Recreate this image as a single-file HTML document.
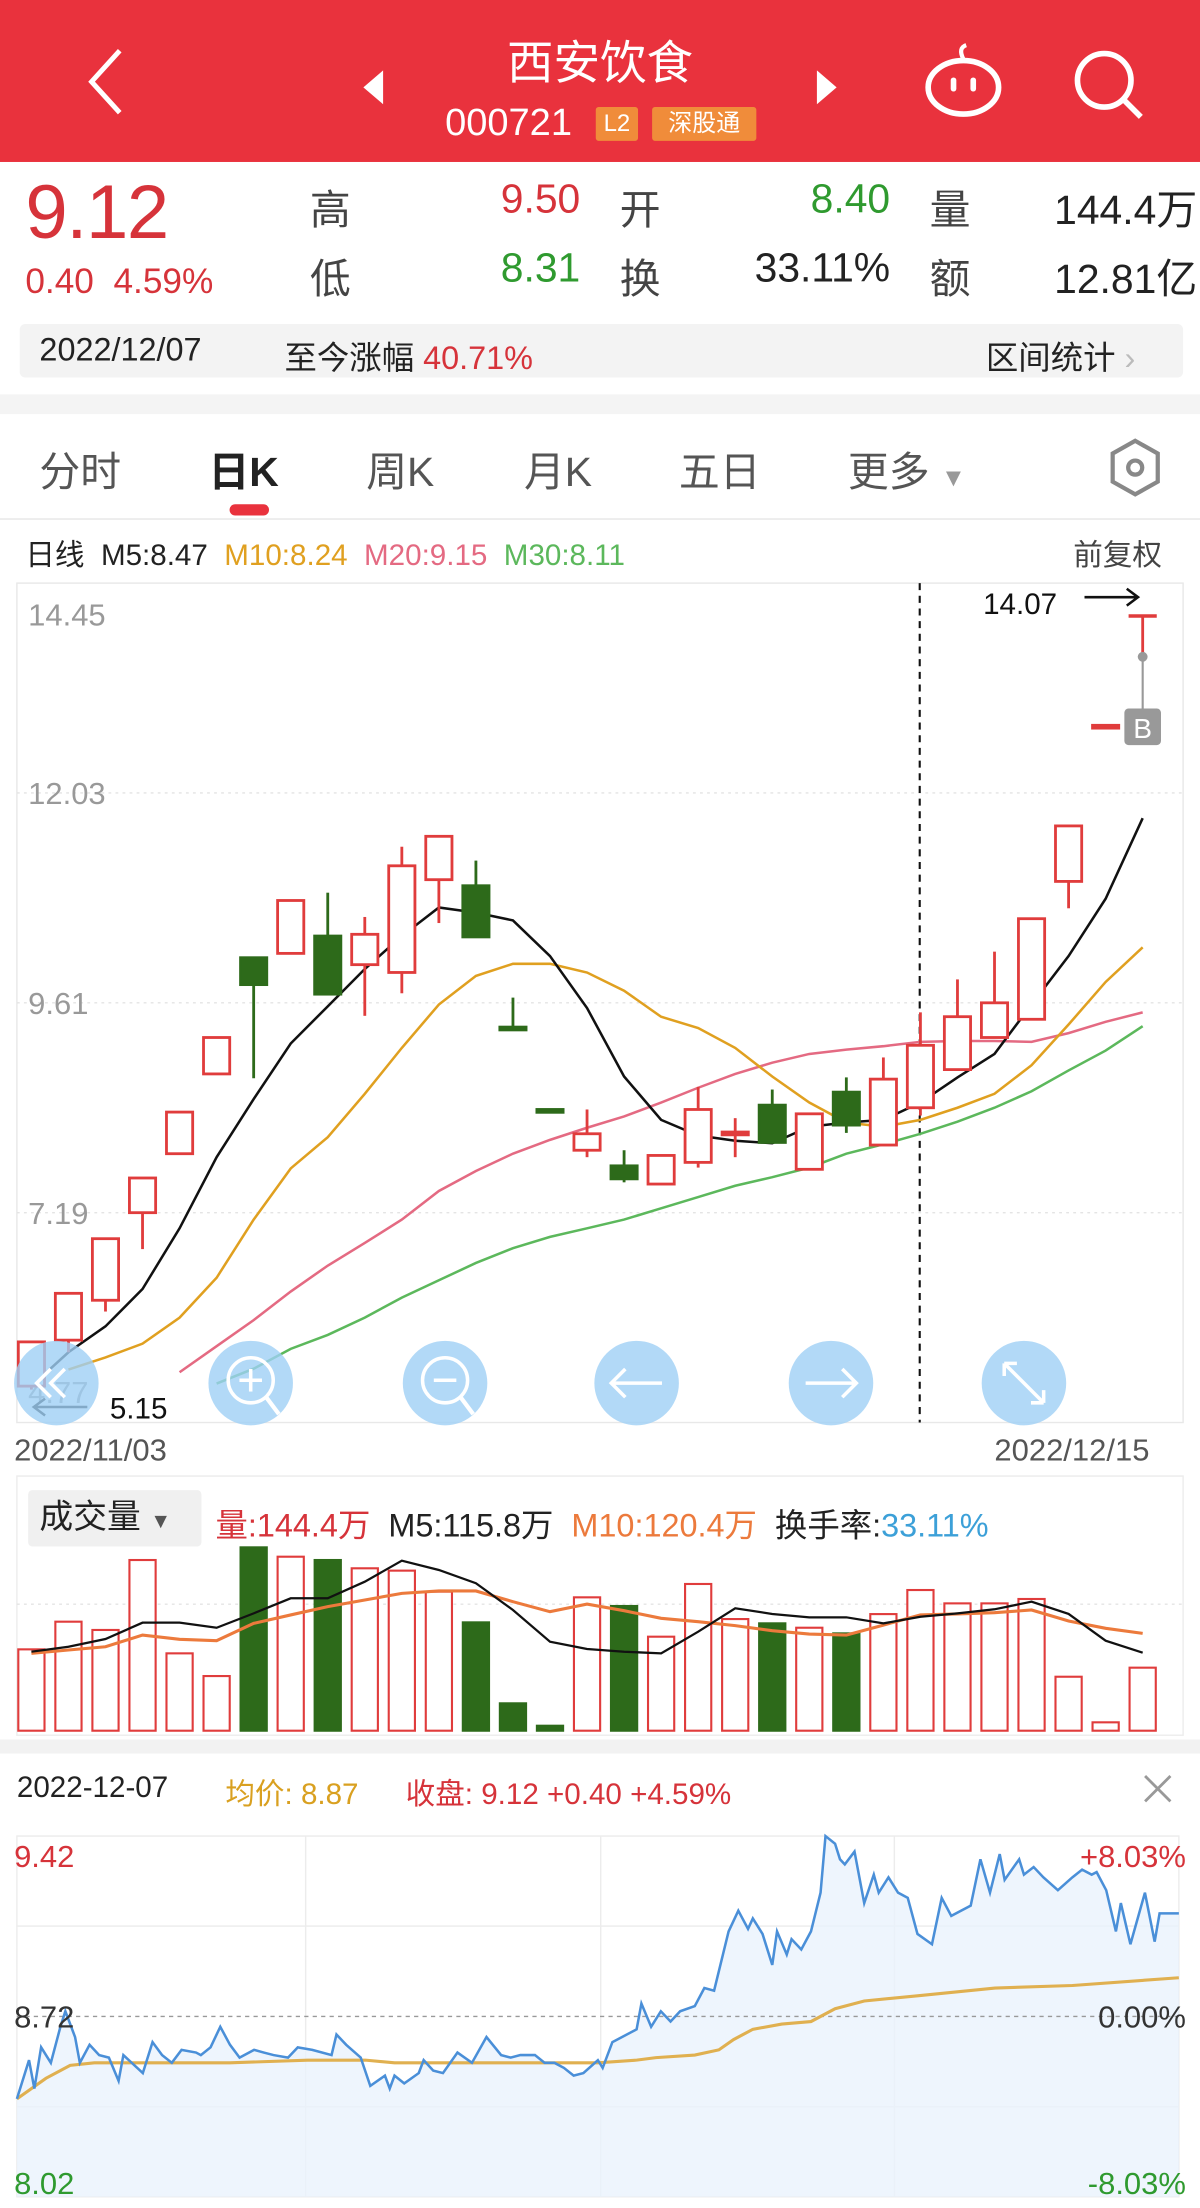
<!DOCTYPE html>
<html><head><meta charset="utf-8">
<style>
html,body{margin:0;padding:0;background:#fff;overflow:hidden}
body{width:1200px;height:2208px;position:relative}
#root{position:absolute;left:0;top:0;width:852px;height:1568px;transform:scale(1.408451);transform-origin:0 0;font-family:"Liberation Sans","Noto Sans CJK SC",sans-serif;color:#222}
.a{position:absolute;white-space:nowrap}
.cn{letter-spacing:-0.5px}
.red{color:#d6333a}.grn{color:#2f9a2f}
</style></head><body>
<div id="root">
<!-- header -->
<div class="a" style="left:0;top:0;width:852px;height:115px;background:#e9323d"></div>
<svg class="a" style="left:55px;top:32px" width="40" height="52"><polyline points="30,4 10,26 30,48" fill="none" stroke="#fff" stroke-width="3.5"/></svg>
<div class="a" style="left:326px;top:18px;width:200px;text-align:center;font-size:33px;color:#fff">西安饮食</div>
<svg class="a" style="left:256px;top:48px" width="20" height="28"><polygon points="16,2 2,14 16,26" fill="#fff"/></svg>
<svg class="a" style="left:576px;top:48px" width="20" height="28"><polygon points="4,2 18,14 4,26" fill="#fff"/></svg>
<div class="a" style="left:316px;top:72px;font-size:27px;color:#fff">000721</div>
<div class="a" style="left:423px;top:76px;width:30px;height:24px;background:#f08c3a;color:#fff;font-size:17px;text-align:center;line-height:24px;border-radius:2px">L2</div>
<div class="a" style="left:463px;top:76px;width:74px;height:24px;background:#f08c3a;color:#fff;font-size:17px;text-align:center;line-height:24px;border-radius:2px">深股通</div>
<svg class="a" style="left:655px;top:28px" width="58" height="56"><path d="M29 14 q-4 -8 2 -10" fill="none" stroke="#fff" stroke-width="3"/><ellipse cx="29" cy="34" rx="25" ry="19" fill="none" stroke="#fff" stroke-width="4"/><rect x="20" y="27" width="4" height="10" rx="2" fill="#fff"/><rect x="34" y="27" width="4" height="10" rx="2" fill="#fff"/></svg>
<svg class="a" style="left:760px;top:33px" width="56" height="56"><circle cx="24" cy="24" r="19" fill="none" stroke="#fff" stroke-width="4"/><line x1="38" y1="38" x2="50" y2="50" stroke="#fff" stroke-width="4"/></svg>
<!-- quote -->
<div class="a red" style="left:18px;top:120px;font-size:54px;letter-spacing:-1px">9.12</div>
<div class="a red" style="left:18px;top:186px;font-size:25px">0.40&nbsp; 4.59%</div>
<div class="a" style="left:220px;top:126px;font-size:29px;color:#444">高</div>
<div class="a red" style="left:312px;top:126px;width:100px;text-align:right;font-size:29px">9.50</div>
<div class="a" style="left:440px;top:126px;font-size:29px;color:#444">开</div>
<div class="a grn" style="left:532px;top:126px;width:100px;text-align:right;font-size:29px">8.40</div>
<div class="a" style="left:660px;top:126px;font-size:29px;color:#444">量</div>
<div class="a" style="left:700px;top:126px;width:150px;text-align:right;font-size:29px">144.4万</div>
<div class="a" style="left:220px;top:175px;font-size:29px;color:#444">低</div>
<div class="a grn" style="left:312px;top:175px;width:100px;text-align:right;font-size:29px">8.31</div>
<div class="a" style="left:440px;top:175px;font-size:29px;color:#444">换</div>
<div class="a" style="left:512px;top:175px;width:120px;text-align:right;font-size:29px">33.11%</div>
<div class="a" style="left:660px;top:175px;font-size:29px;color:#444">额</div>
<div class="a" style="left:700px;top:175px;width:150px;text-align:right;font-size:29px">12.81亿</div>
<div class="a" style="left:14px;top:230px;width:826px;height:38px;background:#f3f3f3;border-radius:4px"></div>
<div class="a" style="left:28px;top:235px;font-size:23px">2022/12/07</div>
<div class="a" style="left:202px;top:235px;font-size:23px">至今涨幅 <span class="red">40.71%</span></div>
<div class="a" style="left:700px;top:235px;font-size:23px">区间统计 <span style="color:#bbb">›</span></div>
<div class="a" style="left:0;top:280px;width:852px;height:14px;background:#f4f4f4"></div>
<!-- tabs -->
<div class="a" style="left:28px;top:312px;font-size:29px;color:#555">分时</div>
<div class="a" style="left:148px;top:312px;font-size:29px;font-weight:bold;color:#222">日K</div>
<div class="a" style="left:163px;top:358px;width:28px;height:8px;border-radius:4px;background:#e9323d"></div>
<div class="a" style="left:260px;top:312px;font-size:29px;color:#555">周K</div>
<div class="a" style="left:372px;top:312px;font-size:29px;color:#555">月K</div>
<div class="a" style="left:482px;top:312px;font-size:29px;color:#555">五日</div>
<div class="a" style="left:602px;top:312px;font-size:29px;color:#555">更多 <span style="font-size:18px;color:#999">▼</span></div>
<svg class="a" style="left:786px;top:310px" width="40" height="44"><polygon points="20,3 36,12 36,32 20,41 4,32 4,12" fill="none" stroke="#888" stroke-width="3"/><circle cx="20" cy="22" r="5" fill="none" stroke="#888" stroke-width="3"/></svg>
<div class="a" style="left:0;top:368px;width:852px;height:1px;background:#e6e6e6"></div>
<!-- MA legend -->
<div class="a" style="left:18px;top:378px;font-size:21px"><span>日线</span>&nbsp; <span>M5:8.47</span>&nbsp; <span style="color:#e0a020">M10:8.24</span>&nbsp; <span style="color:#e46a82">M20:9.15</span>&nbsp; <span style="color:#5cb85c">M30:8.11</span></div>
<div class="a" style="left:762px;top:378px;font-size:21px;color:#444">前复权</div>

<svg id="kchart" class="a" style="left:0;top:0" width="852" height="1568"></svg>

<div class="a" style="left:10px;top:1017px;font-size:22px;color:#555">2022/11/03</div>
<div class="a" style="left:706px;top:1017px;font-size:22px;color:#555">2022/12/15</div>

<!-- volume -->
<div class="a" style="left:20px;top:1058px;width:123px;height:40px;background:#f0f0f0;border-radius:3px;font-size:24px;line-height:40px;padding-left:8px;box-sizing:border-box">成交量 <span style="font-size:15px;color:#555">▼</span></div>
<div class="a" style="left:153px;top:1064px;font-size:23px"><span class="red">量:144.4万</span>&nbsp; <span>M5:115.8万</span>&nbsp; <span style="color:#ec7a3c">M10:120.4万</span>&nbsp; <span>换手率:</span><span style="color:#3ca0d8">33.11%</span></div>
<div class="a" style="left:0;top:1235px;width:852px;height:10px;background:#f2f2f2"></div>

<!-- intraday -->
<div class="a" style="left:12px;top:1258px;font-size:21px">2022-12-07</div>
<div class="a" style="left:160px;top:1258px;font-size:21px;color:#d9a020">均价: 8.87</div>
<div class="a red" style="left:288px;top:1258px;font-size:21px">收盘: 9.12 +0.40 +4.59%</div>
<svg class="a" style="left:810px;top:1258px" width="24" height="24"><path d="M3 3L21 21M21 3L3 21" stroke="#999" stroke-width="2"/></svg>
</div>

<script>
// ===== Daily K data =====
const kDates = ["11/03","11/04","11/07","11/08","11/09","11/10","11/11","11/14","11/15","11/16","11/17","11/18","11/21","11/22","11/23","11/24","11/25","11/28","11/29","11/30","12/01","12/02","12/05","12/06","12/07","12/08","12/09","12/12","12/13","12/14","12/15"];
const opens  = [5.19,5.72,6.18,7.19,7.87,8.79,10.13,10.18,10.38,10.05,9.96,11.03,10.96,9.33,8.38,7.91,7.73,7.52,7.77,8.10,8.43,7.69,8.58,7.97,8.40,8.84,9.21,9.42,11.01,12.81,14.07];
const closes = [5.70,6.26,6.89,7.59,8.35,9.21,9.82,10.79,9.71,10.40,11.19,11.53,10.37,9.32,8.38,8.10,7.58,7.85,8.38,8.12,8.00,8.33,8.20,8.73,9.12,9.45,9.61,10.58,11.65,12.81,14.07];
const highs  = [5.70,6.26,6.89,7.59,8.35,9.21,10.13,10.79,10.88,10.60,11.41,11.53,11.25,9.67,8.38,8.38,7.91,7.85,8.64,8.28,8.61,8.33,8.75,8.98,9.50,9.88,10.20,10.58,11.65,12.81,14.07];
const lows   = [5.15,5.58,6.05,6.77,7.87,8.79,8.74,10.18,9.71,9.46,9.72,10.53,10.37,9.32,8.38,7.83,7.54,7.52,7.71,7.83,8.00,7.69,8.11,7.97,8.31,8.84,9.21,9.42,10.70,12.81,13.60];
const ma5  = [5.19,5.58,5.88,6.31,7.01,7.83,8.50,9.14,9.57,10.00,10.38,10.71,10.65,10.56,10.15,9.55,8.76,8.26,8.08,8.02,7.99,8.18,8.23,8.26,8.46,8.75,9.02,9.59,10.15,10.81,11.74];
const ma10 = [null,5.38,5.52,5.68,5.98,6.44,7.11,7.70,8.06,8.56,9.09,9.59,9.92,10.06,10.06,9.96,9.75,9.45,9.32,9.09,8.76,8.46,8.23,8.18,8.26,8.40,8.56,8.89,9.36,9.85,10.25];
const ma20 = [null,null,null,null,5.35,5.65,5.95,6.28,6.58,6.84,7.11,7.44,7.67,7.87,8.03,8.17,8.30,8.46,8.63,8.79,8.92,9.02,9.07,9.11,9.16,9.17,9.17,9.16,9.26,9.39,9.50];
const ma30 = [null,null,null,null,null,5.22,5.39,5.62,5.78,5.98,6.21,6.41,6.61,6.78,6.91,7.01,7.11,7.24,7.37,7.50,7.60,7.71,7.87,7.98,8.10,8.24,8.40,8.59,8.83,9.06,9.34];
const priceTicks = ["14.45","12.03","9.61","7.19","4.77"];
// ===== Volume data (万) =====
const volumes = [83.5,111.9,103.4,175.2,79.4,56.1,188.2,178.6,175.2,166.7,164.3,142.7,111.2,28.1,5.1,136.9,128.0,96.5,150.6,114.6,110.2,105.7,99.9,119.7,144.4,130.7,130.7,135.2,55.4,8.6,64.7];
const volMa5 = [81.1,86.2,94.1,110.9,110.9,105.7,120.5,135.9,135.9,153.0,174.5,165.0,151.3,123.9,91.4,83.8,81.1,79.4,101.6,125.6,119.8,116.4,116.4,110.2,117.0,120.5,124.6,132.4,119.8,92.4,80.1];
const volMa10 = [79.4,82.8,86.2,98.2,93.8,92.4,110.2,118.8,127.3,134.2,141.0,143.4,143.4,132.4,122.2,130.0,123.2,115.3,111.9,107.8,102.7,99.2,98.2,108.5,118.8,119.8,121.1,123.9,112.6,105.1,99.9];
// ===== Intraday data =====
const minutes = [0,2.5,3.6,5,7,9,10,12,13,15,17,19,21,22,26,28,30,32,34,37,38,40,42,44,46,49,51,53,56,58,61,65,66,68,71,73,76,77,78,80,83,84,86,88,91,94,97,100,102,104,107,109,111,113,115,117,120,121,123,125,128,129,131,133,135,137,140,142,144,147,149,151,152,154,156,157,159,160,162,164,166,167,169,170,171,173,175,177,178,180,182,184,186,189,191,193,195,197,199,201,203,204,207,208,210,212,215,218,220,222,223,225,227,228,230,233,235,236,240];
const prices = [8.40,8.55,8.44,8.60,8.54,8.68,8.74,8.64,8.54,8.61,8.57,8.56,8.47,8.57,8.50,8.62,8.57,8.54,8.59,8.58,8.57,8.60,8.68,8.61,8.56,8.59,8.58,8.57,8.56,8.60,8.59,8.57,8.65,8.61,8.56,8.45,8.49,8.44,8.49,8.46,8.50,8.55,8.51,8.50,8.58,8.54,8.64,8.57,8.56,8.57,8.57,8.54,8.54,8.52,8.49,8.50,8.55,8.52,8.62,8.64,8.67,8.77,8.68,8.74,8.70,8.74,8.76,8.83,8.82,9.05,9.13,9.06,9.10,9.04,8.92,9.05,8.96,9.02,8.98,9.05,9.20,9.42,9.39,9.33,9.31,9.36,9.16,9.27,9.20,9.26,9.20,9.18,9.04,9.00,9.18,9.11,9.13,9.15,9.33,9.20,9.35,9.25,9.33,9.27,9.30,9.26,9.21,9.26,9.29,9.27,9.28,9.21,9.05,9.16,9.00,9.20,9.01,9.12,9.12];
const avgMinutes = [0,6,11,16,28,44,60,72,78,91,107,120,128,132,140,145,148,152,158,164,169,175,186,202,218,240];
const avgPrices = [8.40,8.48,8.53,8.54,8.54,8.54,8.55,8.55,8.54,8.54,8.54,8.54,8.55,8.56,8.57,8.59,8.63,8.67,8.69,8.70,8.75,8.78,8.80,8.83,8.84,8.87];
const intraTicksL = ["9.42","8.72","8.02"];
const intraTicksR = ["+8.03%","0.00%","-8.03%"];

const NS="http://www.w3.org/2000/svg";
const svg=document.getElementById('kchart');
function mk(tag,attrs,parent){const e=document.createElementNS(NS,tag);for(const k in attrs)e.setAttribute(k,attrs[k]);(parent||svg).appendChild(e);return e;}

// axes for K chart
const kTop=414,kBot=1010,pMax=14.45,pMin=4.77;
const yP=p=>kTop+(pMax-p)/(pMax-pMin)*(kBot-kTop);
const xI=i=>22.3+i*26.3;
const candleW=20.6;

let e=mk('rect',{x:12,y:kTop,width:828,height:kBot-kTop,fill:'none',stroke:'#e8e8e8'});


priceTicks.forEach((t,k)=>{
  const v=parseFloat(t),y=yP(v);
  if(k>0&&k<priceTicks.length-1){
    const g=mk('line',{x1:12,x2:840,y1:y,y2:y,stroke:'#e4e4e4','stroke-dasharray':'2,3'});
    
    
  }
  const ty=k===0?y+30:(k===priceTicks.length-1?y-14:y+8);
  const tx=mk('text',{x:20,y:ty,'font-size':22,fill:'#999','font-family':'Liberation Sans'});
  tx.textContent=t;
  
  
});
// dashed selected line
e=mk('line',{x1:653,x2:653,y1:kTop,y2:kBot,stroke:'#111','stroke-width':1.5,'stroke-dasharray':'5,4'});



// MA lines
function maPath(arr,color,name,w){
  let d='';arr.forEach((v,i)=>{if(v==null)return;d+=(d?'L':'M')+xI(i).toFixed(1)+' '+yP(v).toFixed(1);});
  const p=mk('path',{d,fill:'none',stroke:color,'stroke-width':w||1.8});
  
  
}
maPath(ma30,'#5cb85c','ma30-line');
maPath(ma20,'#e46a82','ma20-line');
maPath(ma10,'#e0a020','ma10-line');
maPath(ma5,'#111','ma5-line');

// candles
for(let i=0;i<opens.length-1;i++){
  const up=closes[i]>=opens[i]&&!(i===13||i===14||i===16||i===20||i===22||i===6||i===8||i===12);
  const col=up?'#e03c3c':'#2d6a1a';
  const x=xI(i);
  const top=Math.max(opens[i],closes[i]),bot=Math.min(opens[i],closes[i]);
  const w=mk('line',{x1:x,x2:x,y1:yP(highs[i]),y2:yP(top),stroke:col,'stroke-width':2});
  
  
  const w2=mk('line',{x1:x,x2:x,y1:yP(bot),y2:yP(lows[i]),stroke:col,'stroke-width':2});
  
  
  const h=Math.max(2,yP(bot)-yP(top));
  const r=mk('rect',{x:x-candleW/2+1,y:yP(top),width:candleW-2,height:h,fill:up?'#fff':col,stroke:col,'stroke-width':2});
  
  
}
// last candle marker
{
  const i=opens.length-1,x=xI(i);
  e=mk('line',{x1:x-10,x2:x+10,y1:yP(highs[i]),y2:yP(highs[i]),stroke:'#e03c3c','stroke-width':2.5});
  
  
  e=mk('line',{x1:x,x2:x,y1:yP(highs[i]),y2:yP(lows[i]),stroke:'#e03c3c','stroke-width':2});
  
  
  e=mk('line',{x1:x,x2:x,y1:yP(lows[i]),y2:505,stroke:'#999','stroke-width':1.5});
  
  
  e=mk('circle',{cx:x,cy:yP(lows[i]),r:3.5,fill:'#999'});
  
  
  e=mk('rect',{x:x-13,y:503,width:26,height:26,rx:3,fill:'#999'});
  
  
  const t=mk('text',{x:x,y:524,'font-size':20,fill:'#fff','text-anchor':'middle','font-family':'Liberation Sans'});t.textContent='B';
  
  
}
// max/min labels
{
  let t=mk('text',{x:698,y:436,'font-size':21,fill:'#111','font-family':'Liberation Sans'});t.textContent=highs[highs.length-1].toFixed(2);
  
  
  e=mk('path',{d:'M770 424 H808 M800 418 L808 424 L800 430',stroke:'#111','stroke-width':1.8,fill:'none'});
  
  
  t=mk('text',{x:78,y:1007,'font-size':21,fill:'#111','font-family':'Liberation Sans'});t.textContent=lows[0].toFixed(2);
  
  
  e=mk('path',{d:'M62 999 H24 M32 993 L24 999 L32 1005',stroke:'#111','stroke-width':1.8,fill:'none'});
  
  
}
// zoom buttons
const btnNames=['scroll-left-button','zoom-in-button','zoom-out-button','move-left-button','move-right-button','fullscreen-button'];
const btnX=[40,178,316,452,590,727];
btnX.forEach((cx,k)=>{
  const c=mk('circle',{cx,cy:982,r:30,fill:'#9fd0f5','fill-opacity':0.8});
  
  
  const s='#fff';
  if(k===1||k===2){mk('circle',{cx,cy:980,r:16,fill:'none',stroke:s,'stroke-width':2.5});mk('line',{x1:cx+11,y1:992,x2:cx+20,y2:1004,stroke:s,'stroke-width':3});mk('line',{x1:cx-8,x2:cx+8,y1:980,y2:980,stroke:s,'stroke-width':2.5});if(k===1)mk('line',{x1:cx,x2:cx,y1:972,y2:988,stroke:s,'stroke-width':2.5});}
  if(k===3)mk('path',{d:`M${cx+18} 982 H${cx-18} M${cx-8} 972 L${cx-18} 982 L${cx-8} 992`,stroke:s,'stroke-width':2.5,fill:'none'});
  if(k===4)mk('path',{d:`M${cx-18} 982 H${cx+18} M${cx+8} 972 L${cx+18} 982 L${cx+8} 992`,stroke:s,'stroke-width':2.5,fill:'none'});
  if(k===5)mk('path',{d:`M${cx-14} 968 L${cx+14} 996 M${cx-14} 968 v9 M${cx-14} 968 h9 M${cx+14} 996 v-9 M${cx+14} 996 h-9`,stroke:s,'stroke-width':2.5,fill:'none'});
  if(k===0)mk('path',{d:`M${cx-4} 972 L${cx-14} 982 L${cx-4} 992 M${cx+6} 972 L${cx-4} 982 L${cx+6} 992`,stroke:s,'stroke-width':2.5,fill:'none'});
});

// ===== Volume chart =====
const vBot=1228.8,vScale=0.6917;
const yV=v=>vBot-v*vScale;
e=mk('rect',{x:12,y:1048,width:828,height:184,fill:'none',stroke:'#ececec'});


e=mk('line',{x1:12,x2:840,y1:1139,y2:1139,stroke:'#e4e4e4','stroke-dasharray':'2,3'});


volumes.forEach((v,i)=>{
  const up=!(i===6||i===8||i===12||i===13||i===14||i===16||i===20||i===22);
  const col=up?'#e03c3c':'#2d6a1a';
  const r=mk('rect',{x:xI(i)-candleW/2+1,y:yV(v),width:candleW-2,height:vBot-yV(v),fill:up?'#fff':col,stroke:col,'stroke-width':1.5});
  
  
});
function vPath(arr,color,name,w){
  let d='';arr.forEach((v,i)=>{d+=(i?'L':'M')+xI(i).toFixed(1)+' '+yV(v).toFixed(1);});
  const p=mk('path',{d,fill:'none',stroke:color,'stroke-width':w});
  
  
}
vPath(volMa10,'#ec7a3c','volume-ma10-line',2.2);
vPath(volMa5,'#111','volume-ma5-line',1.6);

// ===== Intraday chart =====
const iTop=1303.6,iBot=1559.7,iL=12,iR=837,iMax=9.42,iMin=8.02;
const xM=m=>iL+m/240*(iR-iL);
const yI=p=>iTop+(iMax-p)/(iMax-iMin)*(iBot-iTop);
e=mk('rect',{x:iL,y:iTop,width:iR-iL,height:iBot-iTop,fill:'none',stroke:'#ececec'});


[217,426.5,635].forEach(x=>{const g=mk('line',{x1:x,x2:x,y1:iTop,y2:iBot,stroke:'#ececec'});
  
  });
[1367.5,1495.8].forEach(y=>{const g=mk('line',{x1:iL,x2:iR,y1:y,y2:y,stroke:'#ececec'});
  
  });
let pd='';minutes.forEach((m,i)=>{pd+=(i?'L':'M')+xM(m).toFixed(1)+' '+yI(prices[i]).toFixed(1);});
e=mk('path',{d:pd+`L${xM(minutes[minutes.length-1])} ${iBot} L${iL} ${iBot}Z`,fill:'#eaf3fc','fill-opacity':0.8,stroke:'none'});


e=mk('line',{x1:iL,x2:iR,y1:yI(8.72),y2:yI(8.72),stroke:'#999','stroke-dasharray':'3,3'});


let ad='';avgMinutes.forEach((m,i)=>{ad+=(i?'L':'M')+xM(m).toFixed(1)+' '+yI(avgPrices[i]).toFixed(1);});
e=mk('path',{d:ad,fill:'none',stroke:'#e0b050','stroke-width':2.2});


e=mk('path',{d:pd,fill:'none',stroke:'#4a8fd8','stroke-width':1.8});


const tcol=['#d6333a','#333','#2f9a2f'];
intraTicksL.forEach((t,k)=>{
  const y=yI(parseFloat(t));const ty=k===0?y+22:(k===2?y-2:y+8);
  let tx=mk('text',{x:10,y:ty,'font-size':22,fill:tcol[k],'font-family':'Liberation Sans'});tx.textContent=t;
  
  
  tx=mk('text',{x:842,y:ty,'font-size':22,fill:tcol[k],'text-anchor':'end','font-family':'Liberation Sans'});tx.textContent=intraTicksR[k];
  
  
});
</script>
</body></html>
